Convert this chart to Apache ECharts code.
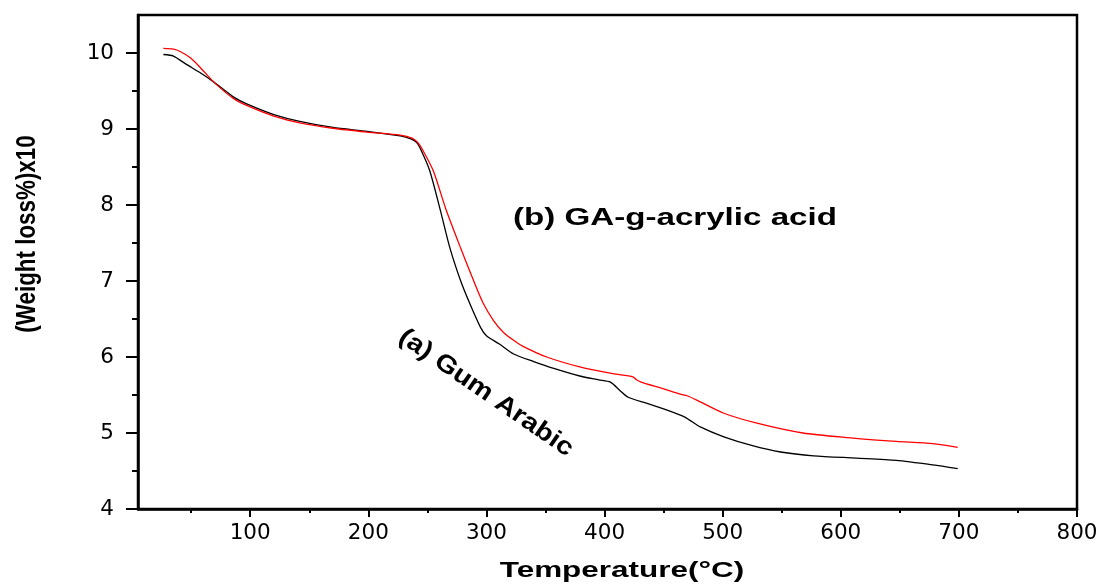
<!DOCTYPE html>
<html>
<head>
<meta charset="utf-8">
<script src="https://cdn.jsdelivr.net/npm/echarts@6/dist/echarts.min.js"></script>
<style>
html,body{margin:0;padding:0;background:#fff;}
#main{width:1101px;height:586px;}
</style>
</head>
<body>
<div id="main"></div>
<script>
// ---- data ----
var gumArabicTemp = [26.5,35,46,57.7,69,86,100,120,142,170,199,227,236,241,245,252,261,269,278,286,295,300,311,323,340,357,379,395,405,413,420,436,453,468,472,481,501,526,549,577,613,647,678,699];
var gumArabicWeight = [9.98,9.96,9.85,9.74,9.62,9.42,9.31,9.19,9.10,9.02,8.97,8.91,8.87,8.82,8.71,8.45,7.93,7.44,7.01,6.70,6.39,6.28,6.17,6.04,5.94,5.85,5.75,5.70,5.67,5.56,5.47,5.39,5.30,5.21,5.17,5.08,4.95,4.83,4.75,4.70,4.67,4.64,4.58,4.53];
var graftTemp = [26.5,35,40.7,49,57.7,69,86,100,120,142,170,199,227,237,242,246.5,255,266,278,289,297.5,306,314,323,331,351,379,407,424,427,431,450,464,470,481,501,529,568,605,647,678,699];
var graftWeight = [10.06,10.05,10.02,9.94,9.81,9.62,9.40,9.29,9.17,9.08,9.01,8.96,8.92,8.88,8.82,8.71,8.45,7.93,7.44,7.01,6.70,6.48,6.33,6.22,6.14,6.00,5.87,5.78,5.74,5.70,5.67,5.58,5.51,5.49,5.41,5.26,5.13,5.00,4.94,4.89,4.86,4.81];
var xMajorTicks = [100,200,300,400,500,600,700,800];
var xMinorTicks = [50,150,250,350,450,550,650,750];
var yMajorTicks = [4,5,6,7,8,9,10];
var yMinorTicks = [4.5,5.5,6.5,7.5,8.5,9.5];
var xTitle = 'Temperature(°C)';
var yTitle = '(Weight loss%)x10';
var labelA = '(a) Gum Arabic';
var labelB = '(b) GA-g-acrylic acid';

function pairs(xs, ys){ return xs.map(function(x,i){ return [x, ys[i]]; }); }

var chart = echarts.init(document.getElementById('main'));
var boldFont = 'Liberation Sans';
chart.setOption({
  animation:false,
  backgroundColor:'#fff',
  grid:{left:138, right:24, top:15, bottom:77, show:true, borderColor:'#000', borderWidth:2.5, backgroundColor:'transparent'},
  xAxis:[{
    type:'value', min:5, max:800, position:'bottom',
    axisLine:{show:true, onZero:false, lineStyle:{color:'#000', width:2.5}},
    axisTick:{show:true, inside:false, length:8, customValues:xMajorTicks, lineStyle:{color:'#000', width:2}},
    axisLabel:{show:true, customValues:xMajorTicks, margin:13, fontFamily:'DejaVu Sans', fontSize:21.5, color:'#000'},
    splitLine:{show:false}
  },{
    type:'value', min:5, max:800, position:'bottom', offset:0,
    axisLine:{show:false},
    axisTick:{show:true, inside:false, length:4, customValues:xMinorTicks, lineStyle:{color:'#000', width:2}},
    axisLabel:{show:false},
    splitLine:{show:false}
  }],
  yAxis:[{
    type:'value', min:4, max:10.5, position:'left',
    axisLine:{show:true, onZero:false, lineStyle:{color:'#000', width:2.5}},
    axisTick:{show:true, inside:false, length:12, customValues:yMajorTicks, lineStyle:{color:'#000', width:2}},
    axisLabel:{show:true, customValues:yMajorTicks, margin:24, fontFamily:'DejaVu Sans', fontSize:21.5, color:'#000'},
    splitLine:{show:false}
  },{
    type:'value', min:4, max:10.5, position:'left', offset:0,
    axisLine:{show:false},
    axisTick:{show:true, inside:false, length:6, customValues:yMinorTicks, lineStyle:{color:'#000', width:2}},
    axisLabel:{show:false},
    splitLine:{show:false}
  }],
  series:[{
    name:'Gum Arabic', type:'line', xAxisIndex:0, yAxisIndex:0,
    data:pairs(gumArabicTemp, gumArabicWeight), showSymbol:false, smooth:0.25,
    lineStyle:{color:'#000', width:1.3}, itemStyle:{color:'#000'}
  },{
    name:'GA-g-acrylic acid', type:'line', xAxisIndex:0, yAxisIndex:0,
    data:pairs(graftTemp, graftWeight), showSymbol:false, smooth:0.25,
    lineStyle:{color:'#ff0000', width:1.3}, itemStyle:{color:'#ff0000'}
  }],
  graphic:[{
    type:'text', x:513, y:218, scaleX:1.38,
    style:{text:labelB, fontFamily:boldFont, fontWeight:'bold', fontSize:24, fill:'#000', textAlign:'left', textVerticalAlign:'middle'}
  },{
    type:'text', x:486, y:393, rotation:-34.5*Math.PI/180, scaleX:1.15,
    style:{text:labelA, fontFamily:boldFont, fontWeight:'bold', fontSize:25, fill:'#000', textAlign:'center', textVerticalAlign:'middle'}
  },{
    type:'text', x:622, y:571, scaleX:1.43,
    style:{text:xTitle, fontFamily:boldFont, fontWeight:'bold', fontSize:22, fill:'#000', textAlign:'center', textVerticalAlign:'middle'}
  },{
    type:'text', x:27, y:234, rotation:Math.PI/2, scaleY:1.25,
    style:{text:yTitle, fontFamily:boldFont, fontWeight:'bold', fontSize:22.4, fill:'#000', textAlign:'center', textVerticalAlign:'middle'}
  }]
});
</script>
</body>
</html>
